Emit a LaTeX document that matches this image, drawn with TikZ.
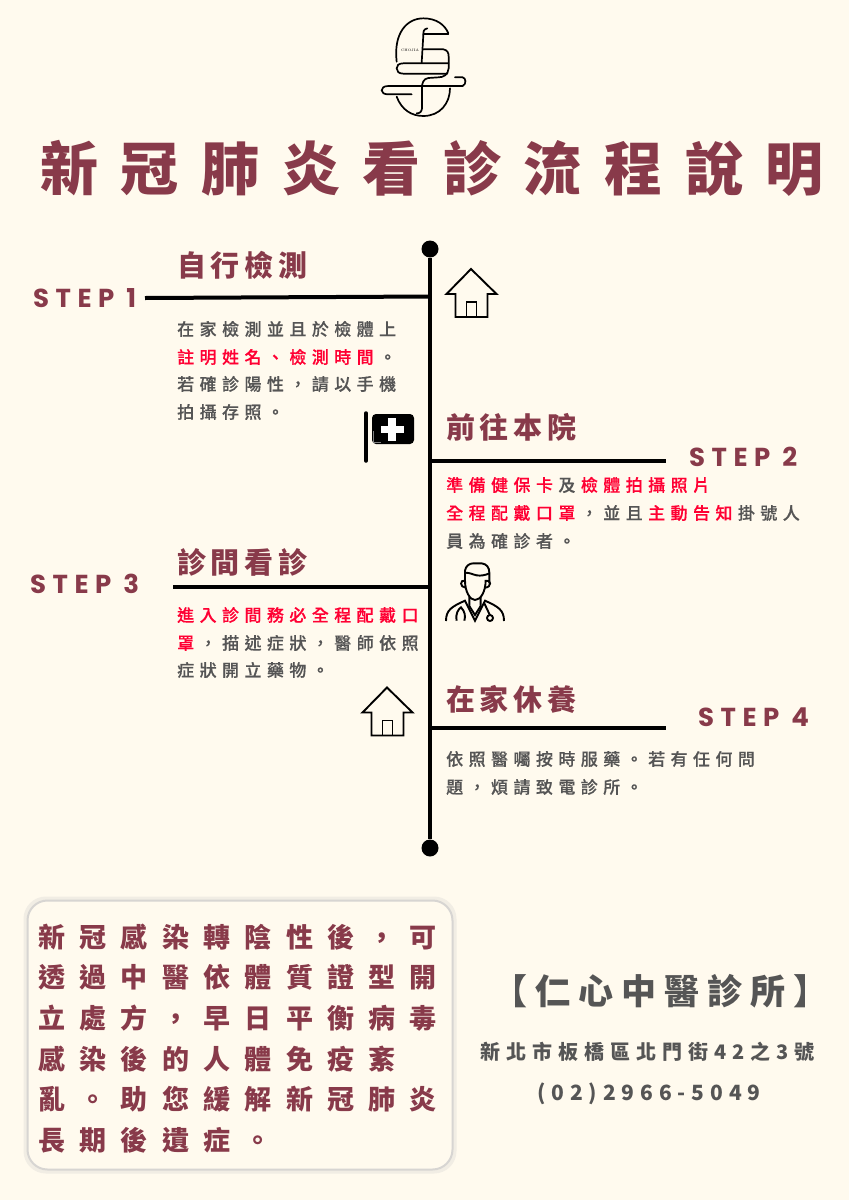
\documentclass[tikz,border=0pt]{standalone}
\usepackage{fontspec}
\newfontfamily\titlefont[LetterSpace=39]{Noto Sans CJK TC}
\newfontfamily\headfont[LetterSpace=16]{Noto Sans CJK TC}
\newfontfamily\bodyfont[LetterSpace=32,FakeBold=0.3]{Noto Sans CJK TC Medium}
\newfontfamily\boxfont[LetterSpace=53]{Noto Sans CJK TC}
\newfontfamily\clinicfont[LetterSpace=23]{Noto Sans CJK TC}
\newfontfamily\addrfont[LetterSpace=30]{Noto Sans CJK TC}
\newfontfamily\stepfont[LetterSpace=25]{Poppins}
\newfontfamily\telfont[LetterSpace=28]{Noto Sans CJK TC}
\definecolor{paper}{RGB}{255,250,238}
\definecolor{wine}{RGB}{136,58,74}
\definecolor{softgray}{RGB}{85,85,85}
\definecolor{alertred}{RGB}{255,0,51}
\definecolor{boxline}{RGB}{215,213,210}
\tikzstyle{titletext}=[anchor=west,inner sep=0pt,text=wine,font=\titlefont\bfseries\fontsize{58}{58}\selectfont]
\tikzstyle{steptext}=[anchor=west,inner sep=0pt,text=wine,font=\stepfont\bfseries\fontsize{26}{26}\selectfont]
\tikzstyle{headtext}=[anchor=west,inner sep=0pt,text=wine,font=\headfont\bfseries\fontsize{29}{29}\selectfont]
\tikzstyle{bodytext}=[anchor=west,inner sep=0pt,text=softgray,font=\bodyfont\fontsize{17}{17}\selectfont]
\tikzstyle{boxtext}=[anchor=west,inner sep=0pt,text=wine,font=\boxfont\bfseries\fontsize{27}{27}\selectfont]
\tikzstyle{blackline}=[draw=black,line width=4pt]
\tikzstyle{iconline}=[draw=black,line width=1.9pt]
\tikzstyle{logoline}=[draw=black,line width=1.7pt,line cap=round]
\tikzstyle{enddot}=[circle,fill=black,inner sep=0pt,minimum size=17pt]
\newcommand{\red}[1]{\textcolor{alertred}{#1}}
\newcommand{\gp}{\kern5.44pt}
\newcommand{\fw}{\char"FF0C\relax}
\newcommand{\houseicon}[2]{%
  \draw[iconline,line join=miter,shift={(#1,#2)}] (9,48) -- (9,25) -- (0,25) -- (24.5,0) -- (50,25) -- (41,25) -- (41,48) -- cycle;
  \draw[iconline,shift={(#1,#2)}] (20,48) -- (20,33) -- (30,33) -- (30,48);
}
\begin{document}
\begin{tikzpicture}[x=1pt,y=-1pt]
  \useasboundingbox (0,0) rectangle (849,1200);
  \fill[paper] (0,0) rectangle (849,1200);

  % logo
  \begin{scope}[shift={(340,0)},scale=1/3]
    \draw[logoline] (170,185) .. controls (160,100) and (200,55) .. (250,55) .. controls (290,55) and (315,75) .. (325,100);
    \draw[logoline] (170,290) .. controls (185,330) and (215,348) .. (250,348) .. controls (300,348) and (330,310) .. (330,265);
    \draw[logoline] (262,85) .. controls (250,88) and (250,95) .. (250,105) -- (245,188);
    \draw[logoline] (250,102) -- (325,102);
    \draw[logoline] (250,148) -- (310,148) .. controls (322,150) and (326,158) .. (326,170) -- (326,205) .. controls (324,225) and (310,232) .. (295,232) -- (265,234) .. controls (250,236) and (246,250) .. (246,262) -- (246,325) .. controls (245,335) and (240,340) .. (230,340);
    \draw[logoline] (325,190) -- (190,190) .. controls (175,190) and (170,197) .. (170,205) .. controls (170,214) and (176,221) .. (190,221) -- (322,221);
    \draw[logoline] (345,232) -- (368,232) .. controls (378,234) and (380,252) .. (368,258) -- (145,258) .. controls (130,258) and (125,265) .. (125,271) .. controls (125,278) and (132,283) .. (145,283) -- (215,283);
    \node (logoname) at (210,151) {\fontsize{3.5}{4}\selectfont CHOJIA};
  \end{scope}

  \node[titletext] (maintitle) at (40,168) {新冠肺炎看診流程說明};

  % timeline
  \node[enddot] (topdot) at (430,249) {};
  \node[enddot] (botdot) at (430,848) {};
  \draw[blackline] (topdot) -- (botdot);
  \coordinate (join1) at (430,296.5);
  \coordinate (free1) at (145,298);
  \coordinate (join2) at (430,461);
  \coordinate (free2) at (666,461);
  \coordinate (join3) at (430,587);
  \coordinate (free3) at (173,587);
  \coordinate (join4) at (430,728);
  \coordinate (free4) at (666,728);
  \draw[blackline] (free1) -- (join1);
  \draw[blackline] (join2) -- (free2);
  \draw[blackline] (free3) -- (join3);
  \draw[blackline] (join4) -- (free4);

  % step 1
  \node[steptext] (step1) at (33,298) {STEP 1};
  \node[headtext] (head1) at (177,265) {自行檢測};
  \node[bodytext] (body1a) at (177,329) {在家檢測並且於檢體上};
  \node[bodytext] (body1b) at (177,357) {\red{註明姓名、檢測時間}\gp。};
  \node[bodytext] (body1c) at (177,384) {若確診陽性\fw 請以手機};
  \node[bodytext] (body1d) at (177,412) {拍攝存照。};

  % step 2
  \node[steptext] (step2) at (689,457) {STEP 2};
  \node[headtext] (head2) at (446,427) {前往本院};
  \node[bodytext] (body2a) at (446,485) {\red{準備健保卡}\gp 及\gp\red{檢體拍攝照片}};
  \node[bodytext] (body2b) at (446,513) {\red{全程配戴口罩}\gp\fw 並且\gp\red{主動告知}\gp 掛號人};
  \node[bodytext] (body2c) at (446,541) {員為確診者。};

  % step 3
  \node[steptext] (step3) at (30,584) {STEP 3};
  \node[headtext] (head3) at (177,562) {診間看診};
  \node[bodytext] (body3a) at (177,615) {\red{進入診間務必全程配戴口}};
  \node[bodytext] (body3b) at (177,643) {\red{罩}\gp\fw 描述症狀\fw 醫師依照};
  \node[bodytext] (body3c) at (177,670) {症狀開立藥物。};

  % step 4
  \node[steptext] (step4) at (698,717) {STEP 4};
  \node[headtext] (head4) at (446,699) {在家休養};
  \node[bodytext] (body4a) at (446,759) {依照醫囑按時服藥。若有任何問};
  \node[bodytext] (body4b) at (446,787) {題\fw 煩請致電診所。};

  % icons
  \houseicon{446.5}{269}
  \houseicon{362.5}{687.5}
  \draw[line width=3.5pt,line cap=round] (366,413) -- (366,461);
  \fill[black,rounded corners=4pt] (372,414) rectangle (414,444);
  \fill[white] (388,417.5) rectangle (396,441);
  \fill[white] (380.5,425.5) rectangle (404,433);
  \draw[gray,line width=0.5pt] (373,431) -- (373,442) -- (381,442);
  \begin{scope}[shift={(350,550)},scale=1/3]
    \draw[iconline] (345,100) -- (345,62) .. controls (347,48) and (358,40) .. (370,40) -- (395,40) .. controls (410,42) and (418,52) .. (418,68) -- (418,100);
    \draw[iconline] (345,68) .. controls (360,68) and (370,74) .. (380,76) .. controls (392,78) and (405,76) .. (418,70);
    \draw[iconline] (345,92) .. controls (345,125) and (360,150) .. (375,150) .. controls (392,150) and (407,125) .. (407,90);
    \draw[iconline] (345,92) .. controls (330,88) and (328,112) .. (347,113);
    \draw[iconline] (407,92) .. controls (424,88) and (426,112) .. (405,113);
    \draw[iconline] (288,213) .. controls (288,180) and (305,170) .. (345,152) -- (375,212) -- (405,152) .. controls (445,170) and (462,180) .. (462,213);
    \draw[iconline] (358,140) -- (358,168) -- (375,195) -- (392,168) -- (392,140);
    \draw[iconline] (320,212) .. controls (316,190) and (325,178) .. (333,172) .. controls (345,185) and (347,198) .. (343,212);
    \draw[iconline] (403,160) -- (420,196);
    \draw[iconline] (420,204) circle (9);
  \end{scope}

  % note box
  \node[draw=boxline,line width=5pt,opacity=0.35,rounded corners=20pt,minimum width=428pt,minimum height=272pt] (boxshade) at (240,1035) {};
  \node[draw=boxline,line width=2pt,fill=paper,rounded corners=20pt,minimum width=425pt,minimum height=269pt] (notebox) at (240,1035) {};
  \node[boxtext] (note1) at (38,937) {新冠感染轉陰性後\fw 可};
  \node[boxtext] (note2) at (38,977.5) {透過中醫依體質證型開};
  \node[boxtext] (note3) at (38,1018.5) {立處方\fw 早日平衡病毒};
  \node[boxtext] (note4) at (38,1059) {感染後的人體免疫紊};
  \node[boxtext] (note5) at (38,1099.5) {亂。助您緩解新冠肺炎};
  \node[boxtext] (note6) at (38,1140) {長期後遺症。};

  % clinic
  \node[anchor=west,inner sep=0pt,text=softgray,font=\clinicfont\bfseries\fontsize{35}{35}\selectfont] (clinic) at (492,991) {【仁心中醫診所】};
  \node[anchor=west,inner sep=0pt,text=softgray,font=\addrfont\bfseries\fontsize{20}{20}\selectfont] (addr) at (480,1052) {新北市板橋區北門街42之3號};
  \node[anchor=west,inner sep=0pt,text=softgray,font=\telfont\bfseries\fontsize{21}{21}\selectfont] (tel) at (537,1094) {(02)2966-5049};
\end{tikzpicture}
\end{document}
